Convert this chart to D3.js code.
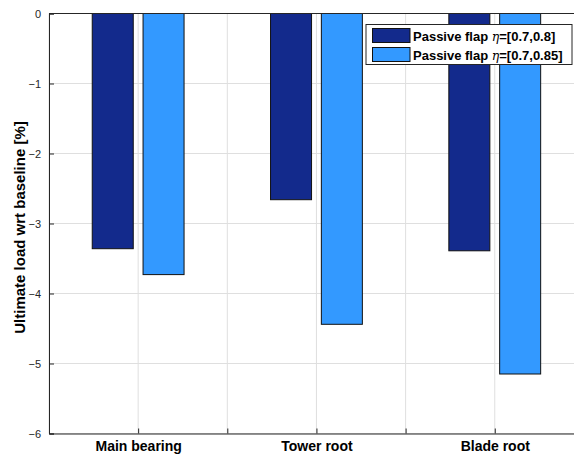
<!DOCTYPE html>
<html><head><meta charset="utf-8">
<script src="https://cdn.jsdelivr.net/npm/d3@7"></script>
<style>body{margin:0;background:#fff}svg{display:block}</style>
</head><body>
<svg id="c" width="574" height="454"></svg>
<script>
const categories = ["Main bearing", "Tower root", "Blade root"];
const seriesNames = ["Passive flap ", "Passive flap "];
const seriesEta = ["=[0.7,0.8]", "=[0.7,0.85]"];
const series1 = [-3.36, -2.66, -3.39];
const series2 = [-3.73, -4.44, -5.15];
const yTicks = [0, -1, -2, -3, -4, -5, -6];
const xTicks = [0.5, 1, 1.5, 2, 2.5, 3, 3.5];

const colors = ["#132a8c", "#3399ff"];
const svg = d3.select("#c");
const L = 49, T = 13.5, B = 433.5, unit = 178.3;
const R = L + 3 * unit;
const x = d3.scaleLinear().domain([0.5, 3.5]).range([L, R]);
const y = d3.scaleLinear().domain([-6, 0]).range([B, T]);
const axisCol = "#262626";
const gridCol = "#dfdfdf";
const font = "Liberation Sans, Arial, sans-serif";

// grid
svg.append("g").selectAll("line").data(yTicks).join("line")
  .attr("x1", L).attr("x2", R).attr("y1", d => y(d)).attr("y2", d => y(d))
  .attr("stroke", gridCol).attr("stroke-width", 1);
svg.append("g").selectAll("line").data(xTicks).join("line")
  .attr("x1", d => x(d)).attr("x2", d => x(d)).attr("y1", T).attr("y2", B)
  .attr("stroke", gridCol).attr("stroke-width", 1);

// bars
const off = 0.1425, bw = 0.23;
const data = [series1, series2];
data.forEach((s, si) => {
  svg.append("g").selectAll("rect").data(s).join("rect")
    .attr("x", (d, i) => x(i + 1 + (si === 0 ? -off : off) - bw / 2))
    .attr("width", x(bw) - x(0))
    .attr("y", y(0))
    .attr("height", d => y(d) - y(0))
    .attr("fill", colors[si])
    .attr("stroke", "#111").attr("stroke-width", 1);
});

// axes
const yAxis = d3.axisLeft(y).tickValues(yTicks).tickSize(-5).tickPadding(8).tickFormat(d3.format("d"));
const gy = svg.append("g").attr("transform", `translate(${L},0)`).call(yAxis);
gy.select(".domain").attr("stroke", axisCol);
gy.selectAll(".tick line").attr("stroke", axisCol);
gy.selectAll(".tick text").attr("fill", axisCol).attr("font-family", font).attr("font-size", 11);

const xAxis = d3.axisBottom(x).tickValues(xTicks).tickSize(-5).tickPadding(8)
  .tickFormat(d => Number.isInteger(d) ? categories[d - 1] : "");
const gx = svg.append("g").attr("transform", `translate(0,${B})`).call(xAxis);
gx.select(".domain").attr("stroke", axisCol);
gx.selectAll(".tick line").attr("stroke", axisCol);
gx.selectAll(".tick text").attr("fill", "#000").attr("font-weight", "bold")
  .attr("font-family", font).attr("font-size", 14);

// top border
svg.append("line").attr("x1", L).attr("x2", R).attr("y1", T).attr("y2", T).attr("stroke", axisCol);

// y label
svg.append("text").attr("transform", `translate(25,${(T + B) / 2 + 4}) rotate(-90)`)
  .attr("text-anchor", "middle").attr("font-weight", "bold")
  .attr("font-family", font).attr("font-size", 15)
  .attr("fill", "#000").text("Ultimate load wrt baseline [%]");

// legend
const lg = svg.append("g");
lg.append("rect").attr("x", 366).attr("y", 24.5).attr("width", 206).attr("height", 40)
  .attr("fill", "#fff").attr("stroke", axisCol).attr("stroke-width", 1);
seriesNames.forEach((n, i) => {
  const yy = 28.5 + i * 19;
  lg.append("rect").attr("x", 372.5).attr("y", yy).attr("width", 37.5).attr("height", 14)
    .attr("fill", colors[i]).attr("stroke", "#111");
  const t = lg.append("text").attr("x", 413).attr("y", yy + 12)
    .attr("font-family", font).attr("font-size", 13)
    .attr("font-weight", "bold").attr("fill", "#000");
  t.append("tspan").text(n);
  t.append("tspan").attr("font-style", "italic").attr("font-weight", "normal")
    .attr("font-family", "DejaVu Serif, serif").attr("font-size", 12.5).text("η");
  t.append("tspan").text(seriesEta[i]);
});
</script>
</body></html>
